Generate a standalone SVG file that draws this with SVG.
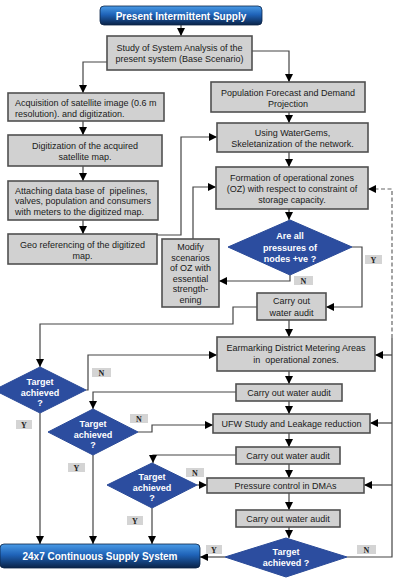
<svg xmlns="http://www.w3.org/2000/svg" width="400" height="583" viewBox="0 0 400 583">
<defs>
<linearGradient id="bar" x1="0" y1="0" x2="0" y2="1">
<stop offset="0" stop-color="#4a9be6"/>
<stop offset="0.45" stop-color="#1f63b8"/>
<stop offset="1" stop-color="#0a2348"/>
</linearGradient>
<marker id="ah" markerWidth="8" markerHeight="8" refX="8" refY="4" orient="auto" markerUnits="userSpaceOnUse"><path d="M0,0 L8,4 L0,8 z" fill="#000"/></marker>
</defs>
<style>
.box{fill:#d1d1d1;stroke:#505050;stroke-width:1.6}
.hdr{fill:url(#bar);stroke:#0a2348;stroke-width:0.8}
.dia{fill:#2c4d9f;stroke:#2a4a98;stroke-width:1}
.t{font-family:"Liberation Sans",Arial,sans-serif;font-size:9px;fill:#1a1a1a}
.c{text-anchor:middle}
.w{fill:#fff;font-weight:bold}
.ht{font-family:"Liberation Sans",Arial,sans-serif;font-size:10px;font-weight:bold;fill:#fff;text-anchor:middle}
.lbl{fill:#d4d4d4}
.lt{font-family:"Liberation Serif",serif;font-weight:bold;font-size:8px;fill:#222;text-anchor:middle}
.ln{fill:none;stroke:#444;stroke-width:1.2}
.ar{marker-end:url(#ah)}
.dash{stroke-dasharray:4 2.5;stroke:#666}
</style>

<g id="connectors">
<path class="ln ar" d="M181,25 V36"/>
<path class="ln ar" d="M107,62 H83 V93"/>
<path class="ln ar" d="M252,51 H289 V82"/>
<path class="ln ar" d="M83,121 V135"/>
<path class="ln ar" d="M83,166 V181"/>
<path class="ln ar" d="M83,220 V234"/>
<path class="ln ar" d="M289,112 V123"/>
<path class="ln ar" d="M157,235 H181 V137 H217"/>
<path class="ln ar" d="M289,152 V167"/>
<path class="ln ar" d="M289,209 V220"/>
<path class="ln ar" d="M193,239 V187 H216"/>
<path class="ln ar" d="M290,275 V281 H219"/>
<path class="ln ar" d="M352,247 H362 V307 H326"/>
<path class="ln ar" d="M289,320 V337"/>
<path class="ln ar" d="M257,307 H233 V324 H40 V367"/>
<path class="ln ar" d="M86,390 H88 V355 H217"/>
<path class="ln ar" d="M40,413 V544"/>
<path class="ln ar" d="M289,371 V384"/>
<path class="ln ar" d="M236,392 H93 V409"/>
<path class="ln ar" d="M289,401 V414"/>
<path class="ln ar" d="M138,432 H152 V425 H213"/>
<path class="ln ar" d="M93,455 V544"/>
<path class="ln ar" d="M289,433 V447"/>
<path class="ln ar" d="M236,455 H153 V463"/>
<path class="ln ar" d="M289,464 V478"/>
<path class="ln ar" d="M197,485 H207"/>
<path class="ln ar" d="M152,508 V544"/>
<path class="ln ar" d="M289,493 V510"/>
<path class="ln ar" d="M289,527 V538"/>
<path class="ln ar" d="M225,557 H200"/>
<path class="ln" d="M347,557 H392 V338"/>
<path class="ln dash ar" d="M392,338 V189 H368"/>
<path class="ln ar" d="M392,355 H375"/>
<path class="ln ar" d="M392,423 H370"/>
<path class="ln ar" d="M392,485 H364"/>
</g>

<g id="labels">
<rect class="lbl" x="365" y="255" width="17" height="9"/><text class="lt" x="373.5" y="262.5">Y</text>
<rect class="lbl" x="294" y="276" width="19" height="9"/><text class="lt" x="303.5" y="283.5">N</text>
<rect class="lbl" x="92" y="368" width="19" height="9"/><text class="lt" x="101.5" y="375.5">N</text>
<rect class="lbl" x="16" y="420" width="16" height="9"/><text class="lt" x="24" y="427.5">Y</text>
<rect class="lbl" x="130" y="414" width="18" height="9"/><text class="lt" x="139" y="421.5">N</text>
<rect class="lbl" x="68" y="463" width="17" height="9"/><text class="lt" x="76.5" y="470.5">Y</text>
<rect class="lbl" x="186" y="468" width="18" height="9"/><text class="lt" x="195" y="475.5">N</text>
<rect class="lbl" x="127" y="516" width="16" height="9"/><text class="lt" x="135" y="523.5">Y</text>
<rect class="lbl" x="206" y="545" width="16" height="9"/><text class="lt" x="214" y="552.5">Y</text>
<rect class="lbl" x="357" y="545" width="19" height="9"/><text class="lt" x="366.5" y="552.5">N</text>
</g>

<g id="start">
<rect class="hdr" x="100" y="6" width="162" height="19" rx="4"/>
<text class="ht" x="181" y="19.5">Present Intermittent Supply</text>
</g>
<g id="study">
<rect class="box" x="107" y="36" width="145" height="34"/>
<text class="t c" x="179.5" y="50.5">Study of System Analysis of the</text>
<text class="t c" x="179.5" y="62">present system (Base Scenario)</text>
</g>
<g id="population">
<rect class="box" x="211" y="82" width="154" height="30"/>
<text class="t c" x="288" y="95.5">Population Forecast and Demand</text>
<text class="t c" x="288" y="106.5">Projection</text>
</g>
<g id="acquisition">
<rect class="box" x="8" y="93" width="156" height="28"/>
<text class="t" x="15" y="105.5">Acquisition of satellite image (0.6 m</text>
<text class="t" x="15" y="116.5">resolution). and digitization.</text>
</g>
<g id="digitization">
<rect class="box" x="8" y="135" width="154" height="31"/>
<text class="t c" x="85" y="148.5">Digitization of the acquired</text>
<text class="t c" x="85" y="159.5">satellite map.</text>
</g>
<g id="attaching">
<rect class="box" x="8" y="181" width="150" height="39"/>
<text class="t" x="15" y="193.5" xml:space="preserve">Attaching data base of  pipelines,</text>
<text class="t" x="15" y="204">valves, population and consumers</text>
<text class="t" x="15" y="214.5">with meters to the digitized map.</text>
</g>
<g id="georef">
<rect class="box" x="8" y="234" width="149" height="30"/>
<text class="t c" x="82.5" y="247.5">Geo referencing of the digitized</text>
<text class="t c" x="82.5" y="258.5">map.</text>
</g>
<g id="watergems">
<rect class="box" x="217" y="123" width="151" height="29"/>
<text class="t c" x="292.5" y="135.5">Using WaterGems,</text>
<text class="t c" x="292.5" y="146.5">Skeletanization of the network.</text>
</g>
<g id="formation">
<rect class="box" x="216" y="167" width="152" height="42"/>
<text class="t c" x="292" y="180.5">Formation of operational zones</text>
<text class="t c" x="292" y="191.5">(OZ) with respect to constraint of</text>
<text class="t c" x="292" y="202.5">storage capacity.</text>
</g>
<g id="pressures">
<polygon class="dia" points="228,247 290,220 352,247 290,275"/>
<text class="t c w" x="290" y="239">Are all</text>
<text class="t c w" x="290" y="250.5">pressures of</text>
<text class="t c w" x="290" y="262">nodes +ve ?</text>
</g>
<g id="modify">
<rect class="box" x="162" y="239" width="57" height="68"/>
<text class="t c" x="190.5" y="250">Modify</text>
<text class="t c" x="190.5" y="260.5">scenarios</text>
<text class="t c" x="190.5" y="271">of OZ with</text>
<text class="t c" x="190.5" y="281.5">essential</text>
<text class="t c" x="190.5" y="292">strength-</text>
<text class="t c" x="190.5" y="302.5">ening</text>
</g>
<g id="audit1">
<rect class="box" x="257" y="293" width="69" height="27"/>
<text class="t c" x="291.5" y="304">Carry out</text>
<text class="t c" x="291.5" y="315.5">water audit</text>
</g>
<g id="earmarking">
<rect class="box" x="217" y="337" width="158" height="34"/>
<text class="t c" x="296" y="351">Earmarking District Metering Areas</text>
<text class="t c" x="296" y="362.5" xml:space="preserve">in  operational zones.</text>
</g>
<g id="target1">
<polygon class="dia" points="-6,390 40,367 86,390 40,413"/>
<text class="t c w" x="40" y="385">Target</text>
<text class="t c w" x="40" y="395.5">achieved</text>
<text class="t c w" x="40" y="406">?</text>
</g>
<g id="audit2">
<rect class="box" x="236" y="384" width="106" height="17"/>
<text class="t c" x="289" y="395.5">Carry out water audit</text>
</g>
<g id="ufw">
<rect class="box" x="213" y="414" width="157" height="19"/>
<text class="t c" x="291.5" y="426.5">UFW Study and Leakage reduction</text>
</g>
<g id="target2">
<polygon class="dia" points="48,432 93,409 138,432 93,455"/>
<text class="t c w" x="93" y="427">Target</text>
<text class="t c w" x="93" y="437.5">achieved</text>
<text class="t c w" x="93" y="448">?</text>
</g>
<g id="audit3">
<rect class="box" x="236" y="447" width="104" height="17"/>
<text class="t c" x="288" y="458.5">Carry out water audit</text>
</g>
<g id="target3">
<polygon class="dia" points="107,485 152,463 197,485 152,508"/>
<text class="t c w" x="152" y="480">Target</text>
<text class="t c w" x="152" y="490.5">achieved</text>
<text class="t c w" x="152" y="501">?</text>
</g>
<g id="pressurecontrol">
<rect class="box" x="207" y="478" width="157" height="15"/>
<text class="t c" x="285.5" y="488.5">Pressure control in DMAs</text>
</g>
<g id="audit4">
<rect class="box" x="236" y="510" width="104" height="17"/>
<text class="t c" x="288" y="521.5">Carry out water audit</text>
</g>
<g id="target4">
<polygon class="dia" points="225,557 286,538 347,557 286,577"/>
<text class="t c w" x="286" y="555">Target</text>
<text class="t c w" x="286" y="566">achieved ?</text>
</g>
<g id="end">
<rect class="hdr" x="0" y="544" width="200" height="24" rx="4"/>
<text class="ht" x="100" y="559.5">24x7 Continuous Supply System</text>
</g>
</svg>
